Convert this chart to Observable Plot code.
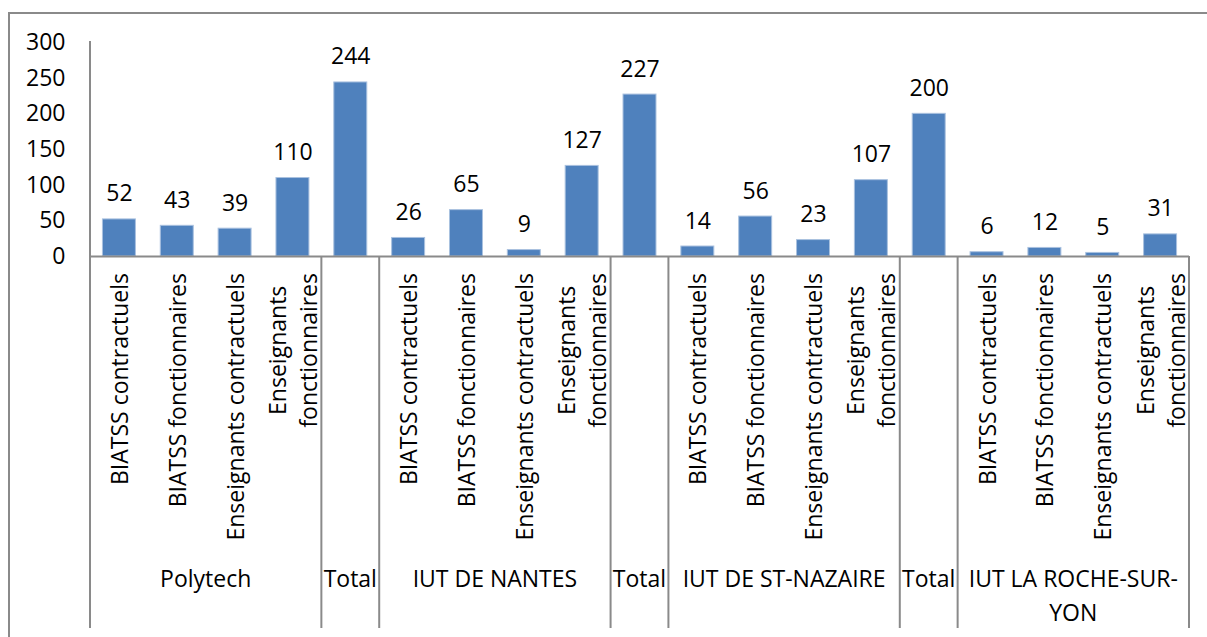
<!DOCTYPE html>
<html>
<head>
<meta charset="utf-8">
<script src="https://cdn.jsdelivr.net/npm/d3@7"></script>
<script src="https://cdn.jsdelivr.net/npm/@observablehq/plot@0.6"></script>
<style>
  html, body { margin: 0; padding: 0; background: #fff; }
  #wrap { position: relative; width: 1207px; height: 637px; overflow: hidden; }
  #frame { position: absolute; left: 8px; top: 12px; width: 1240px; height: 660px; border: 2px solid #8a8a8a; box-sizing: border-box; }
  #chart { position: absolute; left: 0; top: 0; }
</style>
</head>
<body>
<div id="wrap"><div id="frame"></div><div id="chart"></div></div>
<script>
// ---- data ----
const schools = ["Polytech", "IUT DE NANTES", "IUT DE ST-NAZAIRE", "IUT LA ROCHE-SUR-YON"];
const staffTypes = ["BIATSS contractuels", "BIATSS fonctionnaires", "Enseignants contractuels", "Enseignants fonctionnaires"];
const polytechValues = [52, 43, 39, 110];
const nantesValues = [26, 65, 9, 127];
const stNazaireValues = [14, 56, 23, 107];
const rocheSurYonValues = [6, 12, 5, 31];
const totals = [244, 227, 200]; // "Total" columns after the first three schools
const totalLabel = "Total";
const yTicks = [0, 50, 100, 150, 200, 250, 300];
// wrapped display forms (as in the reference)
const wrapped = {
  "Enseignants fonctionnaires": "Enseignants\nfonctionnaires",
  "IUT LA ROCHE-SUR-YON": "IUT LA ROCHE-SUR-\nYON"
};

const schoolValues = [polytechValues, nantesValues, stNazaireValues, rocheSurYonValues];
const rows = [];
schools.forEach((s, i) => {
  staffTypes.forEach((t, j) => rows.push({key: `${s}|${t}`, group: s, label: t, value: schoolValues[i][j]}));
  if (i < totals.length) rows.push({key: `${s}|${totalLabel}`, group: totalLabel, label: "", value: totals[i]});
});
// consecutive group runs
const groups = [];
rows.forEach((r, i) => {
  const last = groups[groups.length - 1];
  if (last && last.name === r.group && !(r.group === totalLabel)) last.keys.push(r.key);
  else groups.push({name: r.group, keys: [r.key]});
});

const FONT = "'Open Sans', sans-serif";
const FS = 23;
const canvas = document.createElement("canvas");
const ctx = canvas.getContext("2d");
ctx.font = `${FS}px 'Open Sans'`;
const measure = s => ctx.measureText(s).width;
const GRAY = "#8a8a8a";

const W = 1207, H = 637;
const BASE = 256;

function categoryAxis(index, scales, values, dimensions) {
  const x = scales.x;
  const bw = typeof x.bandwidth === "function" ? x.bandwidth() : x.bandwidth;
  const center = k => x(k) + bw / 2;
  const step = center(rows[1].key) - center(rows[0].key);
  const y0 = dimensions.height - dimensions.marginBottom;
  const yTop = dimensions.marginTop - 1;
  const bottom = y0 + 372;
  const g = d3.create("svg:g").attr("font-family", FONT).attr("font-size", FS).attr("fill", "#000");
  // rotated category labels
  rows.forEach(r => {
    if (!r.label) return;
    const lines = (wrapped[r.label] || r.label).split("\n");
    const maxW = d3.max(lines, measure);
    const cy = y0 + 17 + maxW / 2;
    const t = g.append("text")
      .attr("transform", `translate(${center(r.key)},${cy}) rotate(-90)`)
      .attr("text-anchor", "middle");
    const lh = 31;
    lines.forEach((ln, i) => t.append("tspan").attr("x", 0).attr("y", (i - (lines.length - 1) / 2) * lh + 9).text(ln));
  });
  // group separators and labels
  const edges = new Set();
  groups.forEach(gr => {
    const left = center(gr.keys[0]) - step / 2;
    const right = center(gr.keys[gr.keys.length - 1]) + step / 2;
    edges.add(Math.round(left * 100) / 100);
    edges.add(Math.round(right * 100) / 100);
    const lines = (wrapped[gr.name] || gr.name).split("\n");
    const t = g.append("text").attr("text-anchor", "middle");
    lines.forEach((ln, i) => t.append("tspan").attr("x", (left + right) / 2).attr("y", y0 + 331 + i * 34).text(ln));
  });
  const minEdge = d3.min([...edges]);
  [...edges].forEach(e => {
    g.append("line").attr("x1", e).attr("x2", e)
      .attr("y1", e === minEdge ? yTop : y0).attr("y2", bottom)
      .attr("stroke", GRAY).attr("stroke-width", 2);
  });
  return g.node();
}

const plot = Plot.plot({
  width: W,
  height: H,
  marginTop: 42,
  marginBottom: H - BASE,
  marginLeft: 90,
  marginRight: W - 1189,
  style: {fontFamily: FONT, fontSize: `${FS}px`, color: "#000", background: "transparent", overflow: "visible"},
  x: {domain: rows.map(d => d.key), paddingInner: 0.43, paddingOuter: 0.215, round: false, axis: null},
  y: {domain: [0, 300], axis: null},
  marks: [
    Plot.axisY({ticks: yTicks, tickSize: 0, tickPadding: 25, fontSize: FS, label: null, fill: "#000"}),
    Plot.barY(rows, {x: "key", y: "value", fill: "#4F81BD", stroke: "#a9c1df", strokeWidth: 1}),
    Plot.text(rows, {x: "key", y: "value", text: d => String(d.value), lineAnchor: "bottom", dy: -18, fill: "#000", fontSize: FS}),
    Plot.ruleY([0], {stroke: GRAY, strokeWidth: 2}),
    categoryAxis
  ]
});
document.getElementById("chart").appendChild(plot);
</script>
</body>
</html>
